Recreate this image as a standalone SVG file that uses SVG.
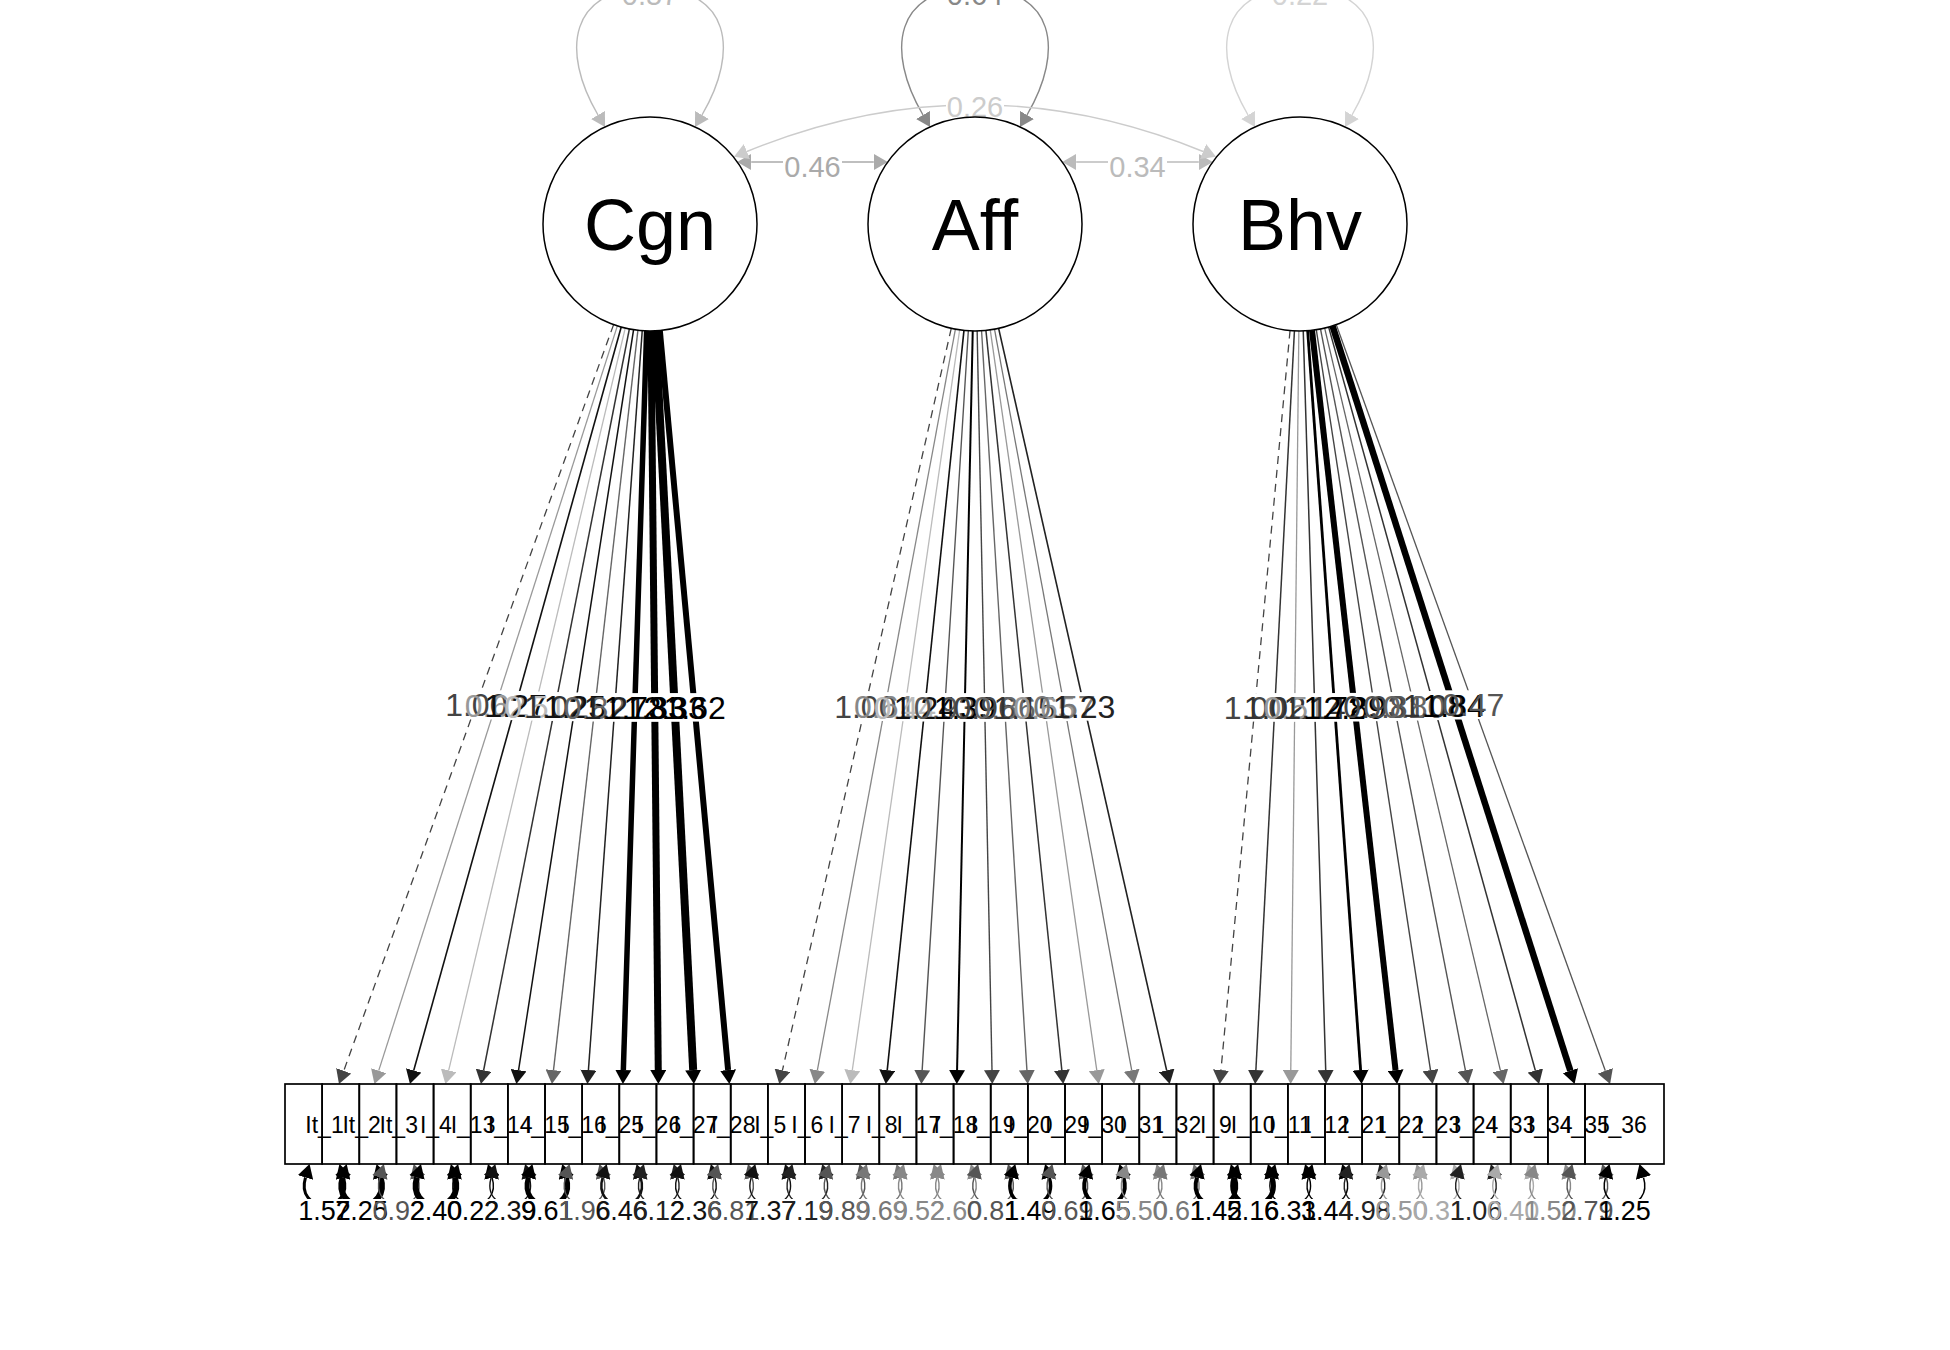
<svg xmlns="http://www.w3.org/2000/svg" width="1950" height="1350" viewBox="0 0 1950 1350">
<style>
text{font-family:"Liberation Sans",Arial,sans-serif;text-anchor:middle}
.lat{font-size:72px;fill:#000}
.bx{font-size:23px;fill:#000}
.ld{font-size:32px}
.rs{font-size:27px}
.cv{font-size:29px}
.e{fill:none}
.d{stroke-dasharray:8,6}
.bg{fill:#fff;stroke:none}
.circ{fill:#fff;stroke:#000;stroke-width:1.5}
.box{fill:none;stroke:#000;stroke-width:1.7}
</style>
<defs>
<marker id="m000" viewBox="0 0 14 16" refX="0" refY="8" markerWidth="14" markerHeight="16" markerUnits="userSpaceOnUse" orient="auto-start-reverse"><path d="M0,0L14,8L0,16Z" fill="#000"/></marker>
<marker id="m111" viewBox="0 0 14 16" refX="0" refY="8" markerWidth="14" markerHeight="16" markerUnits="userSpaceOnUse" orient="auto-start-reverse"><path d="M0,0L14,8L0,16Z" fill="#111"/></marker>
<marker id="m222" viewBox="0 0 14 16" refX="0" refY="8" markerWidth="14" markerHeight="16" markerUnits="userSpaceOnUse" orient="auto-start-reverse"><path d="M0,0L14,8L0,16Z" fill="#222"/></marker>
<marker id="m333" viewBox="0 0 14 16" refX="0" refY="8" markerWidth="14" markerHeight="16" markerUnits="userSpaceOnUse" orient="auto-start-reverse"><path d="M0,0L14,8L0,16Z" fill="#333"/></marker>
<marker id="m444" viewBox="0 0 14 16" refX="0" refY="8" markerWidth="14" markerHeight="16" markerUnits="userSpaceOnUse" orient="auto-start-reverse"><path d="M0,0L14,8L0,16Z" fill="#444"/></marker>
<marker id="m555" viewBox="0 0 14 16" refX="0" refY="8" markerWidth="14" markerHeight="16" markerUnits="userSpaceOnUse" orient="auto-start-reverse"><path d="M0,0L14,8L0,16Z" fill="#555"/></marker>
<marker id="m666" viewBox="0 0 14 16" refX="0" refY="8" markerWidth="14" markerHeight="16" markerUnits="userSpaceOnUse" orient="auto-start-reverse"><path d="M0,0L14,8L0,16Z" fill="#666"/></marker>
<marker id="m777" viewBox="0 0 14 16" refX="0" refY="8" markerWidth="14" markerHeight="16" markerUnits="userSpaceOnUse" orient="auto-start-reverse"><path d="M0,0L14,8L0,16Z" fill="#777"/></marker>
<marker id="m888" viewBox="0 0 14 16" refX="0" refY="8" markerWidth="14" markerHeight="16" markerUnits="userSpaceOnUse" orient="auto-start-reverse"><path d="M0,0L14,8L0,16Z" fill="#888"/></marker>
<marker id="m999" viewBox="0 0 14 16" refX="0" refY="8" markerWidth="14" markerHeight="16" markerUnits="userSpaceOnUse" orient="auto-start-reverse"><path d="M0,0L14,8L0,16Z" fill="#999"/></marker>
<marker id="maaa" viewBox="0 0 14 16" refX="0" refY="8" markerWidth="14" markerHeight="16" markerUnits="userSpaceOnUse" orient="auto-start-reverse"><path d="M0,0L14,8L0,16Z" fill="#aaa"/></marker>
<marker id="mbbb" viewBox="0 0 14 16" refX="0" refY="8" markerWidth="14" markerHeight="16" markerUnits="userSpaceOnUse" orient="auto-start-reverse"><path d="M0,0L14,8L0,16Z" fill="#bbb"/></marker>
<marker id="mccc" viewBox="0 0 14 16" refX="0" refY="8" markerWidth="14" markerHeight="16" markerUnits="userSpaceOnUse" orient="auto-start-reverse"><path d="M0,0L14,8L0,16Z" fill="#ccc"/></marker>
<marker id="md4" viewBox="0 0 14 16" refX="0" refY="8" markerWidth="14" markerHeight="16" markerUnits="userSpaceOnUse" orient="auto-start-reverse"><path d="M0,0L14,8L0,16Z" fill="#d4d4d4"/></marker>
</defs>
<rect width="1950" height="1350" fill="#fff"/>
<g id="connectors">
<!-- latent variances -->
<path class="e" d="M598,115C560,50 570,-12 650,-12C730,-12 740,50 702,115" stroke="#bbb" stroke-width="1.4" marker-start="url(#mbbb)" marker-end="url(#mbbb)"/>
<path class="e" d="M923,115C885,50 895,-12 975,-12C1055,-12 1065,50 1027,115" stroke="#888" stroke-width="1.4" marker-start="url(#m888)" marker-end="url(#m888)"/>
<path class="e" d="M1248,115C1210,50 1220,-12 1300,-12C1380,-12 1390,50 1352,115" stroke="#d4d4d4" stroke-width="1.4" marker-start="url(#md4)" marker-end="url(#md4)"/>
<!-- covariances -->
<path class="e" d="M751.2,162L873.8,162" stroke="#aaa" stroke-width="1.6" marker-start="url(#maaa)" marker-end="url(#maaa)"/>
<path class="e" d="M1076.2,162L1198.8,162" stroke="#bbb" stroke-width="1.6" marker-start="url(#mbbb)" marker-end="url(#mbbb)"/>
<path class="e" d="M746.9,151.5Q975,58 1203.1,151.5" stroke="#ccc" stroke-width="1.4" marker-start="url(#mccc)" marker-end="url(#mccc)"/>
<!-- loadings Cgn -->
<path class="e d" d="M613.61,324.62L343.73,1070.83" stroke="#444" stroke-width="1.3" marker-end="url(#m444)"/>
<path class="e" d="M617.35,325.9L378.72,1070.67" stroke="#999" stroke-width="1.3" marker-end="url(#m999)"/>
<path class="e" d="M621.23,327.06L413.71,1070.52" stroke="#111" stroke-width="1.6" marker-end="url(#m111)"/>
<path class="e" d="M625.24,328.1L448.68,1070.38" stroke="#bbb" stroke-width="1.3" marker-end="url(#mbbb)"/>
<path class="e" d="M629.36,328.99L483.63,1070.26" stroke="#333" stroke-width="1.5" marker-end="url(#m333)"/>
<path class="e" d="M633.58,329.73L518.57,1070.17" stroke="#111" stroke-width="1.5" marker-end="url(#m111)"/>
<path class="e" d="M637.88,330.31L553.51,1070.09" stroke="#666" stroke-width="1.4" marker-end="url(#m666)"/>
<path class="e" d="M642.23,330.72L588.43,1070.04" stroke="#222" stroke-width="1.5" marker-end="url(#m222)"/>
<path class="e" d="M646.63,330.95L623.34,1070.01" stroke="#000" stroke-width="5.5" marker-end="url(#m000)"/>
<path class="e" d="M651.05,330.99L658.26,1070" stroke="#000" stroke-width="7" marker-end="url(#m000)"/>
<path class="e" d="M655.45,330.86L693.18,1070.02" stroke="#000" stroke-width="8" marker-end="url(#m000)"/>
<path class="e" d="M659.83,330.55L728.09,1070.06" stroke="#000" stroke-width="6" marker-end="url(#m000)"/>
<!-- loadings Aff -->
<path class="e d" d="M951.26,328.33L782.42,1070.35" stroke="#444" stroke-width="1.3" marker-end="url(#m444)"/>
<path class="e" d="M955.41,329.19L817.37,1070.24" stroke="#888" stroke-width="1.3" marker-end="url(#m888)"/>
<path class="e" d="M959.65,329.89L852.31,1070.14" stroke="#bbb" stroke-width="1.3" marker-end="url(#mbbb)"/>
<path class="e" d="M963.96,330.43L887.23,1070.07" stroke="#111" stroke-width="1.6" marker-end="url(#m111)"/>
<path class="e" d="M968.33,330.79L922.16,1070.03" stroke="#555" stroke-width="1.4" marker-end="url(#m555)"/>
<path class="e" d="M972.73,330.98L957.08,1070" stroke="#000" stroke-width="2" marker-end="url(#m000)"/>
<path class="e" d="M977.15,330.98L991.99,1070" stroke="#444" stroke-width="1.4" marker-end="url(#m444)"/>
<path class="e" d="M981.55,330.8L1026.9,1070.03" stroke="#666" stroke-width="1.4" marker-end="url(#m666)"/>
<path class="e" d="M985.92,330.44L1061.83,1070.07" stroke="#333" stroke-width="1.5" marker-end="url(#m333)"/>
<path class="e" d="M990.24,329.91L1096.76,1070.14" stroke="#999" stroke-width="1.3" marker-end="url(#m999)"/>
<path class="e" d="M994.48,329.21L1131.68,1070.23" stroke="#777" stroke-width="1.3" marker-end="url(#m777)"/>
<path class="e" d="M998.63,328.36L1166.64,1070.35" stroke="#222" stroke-width="1.6" marker-end="url(#m222)"/>
<!-- loadings Bhv -->
<path class="e d" d="M1290.05,330.54L1220.97,1070.06" stroke="#444" stroke-width="1.3" marker-end="url(#m444)"/>
<path class="e" d="M1294.43,330.85L1255.89,1070.02" stroke="#333" stroke-width="1.5" marker-end="url(#m333)"/>
<path class="e" d="M1298.84,330.99L1290.79,1070" stroke="#999" stroke-width="1.3" marker-end="url(#m999)"/>
<path class="e" d="M1303.25,330.95L1325.71,1070.01" stroke="#333" stroke-width="1.5" marker-end="url(#m333)"/>
<path class="e" d="M1307.65,330.73L1360.63,1070.04" stroke="#000" stroke-width="2.8" marker-end="url(#m000)"/>
<path class="e" d="M1312.01,330.32L1395.55,1070.09" stroke="#000" stroke-width="6" marker-end="url(#m000)"/>
<path class="e" d="M1316.31,329.75L1430.49,1070.16" stroke="#444" stroke-width="1.4" marker-end="url(#m444)"/>
<path class="e" d="M1320.53,329.01L1465.42,1070.26" stroke="#555" stroke-width="1.4" marker-end="url(#m555)"/>
<path class="e" d="M1324.65,328.12L1500.37,1070.38" stroke="#666" stroke-width="1.3" marker-end="url(#m666)"/>
<path class="e" d="M1328.66,327.09L1535.34,1070.51" stroke="#333" stroke-width="1.5" marker-end="url(#m333)"/>
<path class="e" d="M1332.55,325.93L1570.33,1070.66" stroke="#000" stroke-width="6.5" marker-end="url(#m000)"/>
<path class="e" d="M1336.29,324.66L1605.33,1070.83" stroke="#555" stroke-width="1.3" marker-end="url(#m555)"/>
<!-- residual variances -->
<g class="e">
<path transform="translate(324.5,0)" d="M-19,1177.5C-24,1194 -14,1205 0,1205C14,1205 24,1194 19,1177.5" stroke="#000" stroke-width="3" marker-start="url(#m000)" marker-end="url(#m000)"/>
<path transform="translate(361.64,0)" d="M-19,1177.5C-24,1194 -14,1205 0,1205C14,1205 24,1194 19,1177.5" stroke="#000" stroke-width="6" marker-start="url(#m000)" marker-end="url(#m000)"/>
<path transform="translate(398.79,0)" d="M-19,1177.5C-24,1194 -14,1205 0,1205C14,1205 24,1194 19,1177.5" stroke="#555" stroke-width="1.4" marker-start="url(#m555)" marker-end="url(#m555)"/>
<path transform="translate(435.93,0)" d="M-19,1177.5C-24,1194 -14,1205 0,1205C14,1205 24,1194 19,1177.5" stroke="#000" stroke-width="6" marker-start="url(#m000)" marker-end="url(#m000)"/>
<path transform="translate(473.07,0)" d="M-19,1177.5C-24,1194 -14,1205 0,1205C14,1205 24,1194 19,1177.5" stroke="#000" stroke-width="1.4" marker-start="url(#m000)" marker-end="url(#m000)"/>
<path transform="translate(510.21,0)" d="M-19,1177.5C-24,1194 -14,1205 0,1205C14,1205 24,1194 19,1177.5" stroke="#111" stroke-width="1.4" marker-start="url(#m111)" marker-end="url(#m111)"/>
<path transform="translate(547.36,0)" d="M-19,1177.5C-24,1194 -14,1205 0,1205C14,1205 24,1194 19,1177.5" stroke="#000" stroke-width="5" marker-start="url(#m000)" marker-end="url(#m000)"/>
<path transform="translate(584.5,0)" d="M-19,1177.5C-24,1194 -14,1205 0,1205C14,1205 24,1194 19,1177.5" stroke="#555" stroke-width="1.4" marker-start="url(#m555)" marker-end="url(#m555)"/>
<path transform="translate(621.64,0)" d="M-19,1177.5C-24,1194 -14,1205 0,1205C14,1205 24,1194 19,1177.5" stroke="#111" stroke-width="2.5" marker-start="url(#m111)" marker-end="url(#m111)"/>
<path transform="translate(658.79,0)" d="M-19,1177.5C-24,1194 -14,1205 0,1205C14,1205 24,1194 19,1177.5" stroke="#222" stroke-width="1.4" marker-start="url(#m222)" marker-end="url(#m222)"/>
<path transform="translate(695.93,0)" d="M-19,1177.5C-24,1194 -14,1205 0,1205C14,1205 24,1194 19,1177.5" stroke="#111" stroke-width="1.4" marker-start="url(#m111)" marker-end="url(#m111)"/>
<path transform="translate(733.07,0)" d="M-19,1177.5C-24,1194 -14,1205 0,1205C14,1205 24,1194 19,1177.5" stroke="#555" stroke-width="1.4" marker-start="url(#m555)" marker-end="url(#m555)"/>
<path transform="translate(770.21,0)" d="M-19,1177.5C-24,1194 -14,1205 0,1205C14,1205 24,1194 19,1177.5" stroke="#111" stroke-width="1.4" marker-start="url(#m111)" marker-end="url(#m111)"/>
<path transform="translate(807.36,0)" d="M-19,1177.5C-24,1194 -14,1205 0,1205C14,1205 24,1194 19,1177.5" stroke="#222" stroke-width="1.4" marker-start="url(#m222)" marker-end="url(#m222)"/>
<path transform="translate(844.5,0)" d="M-19,1177.5C-24,1194 -14,1205 0,1205C14,1205 24,1194 19,1177.5" stroke="#555" stroke-width="1.4" marker-start="url(#m555)" marker-end="url(#m555)"/>
<path transform="translate(881.64,0)" d="M-19,1177.5C-24,1194 -14,1205 0,1205C14,1205 24,1194 19,1177.5" stroke="#777" stroke-width="1.4" marker-start="url(#m777)" marker-end="url(#m777)"/>
<path transform="translate(918.79,0)" d="M-19,1177.5C-24,1194 -14,1205 0,1205C14,1205 24,1194 19,1177.5" stroke="#888" stroke-width="1.4" marker-start="url(#m888)" marker-end="url(#m888)"/>
<path transform="translate(955.93,0)" d="M-19,1177.5C-24,1194 -14,1205 0,1205C14,1205 24,1194 19,1177.5" stroke="#888" stroke-width="1.4" marker-start="url(#m888)" marker-end="url(#m888)"/>
<path transform="translate(993.07,0)" d="M-19,1177.5C-24,1194 -14,1205 0,1205C14,1205 24,1194 19,1177.5" stroke="#555" stroke-width="1.4" marker-start="url(#m555)" marker-end="url(#m555)"/>
<path transform="translate(1030.21,0)" d="M-19,1177.5C-24,1194 -14,1205 0,1205C14,1205 24,1194 19,1177.5" stroke="#000" stroke-width="3.5" marker-start="url(#m000)" marker-end="url(#m000)"/>
<path transform="translate(1067.36,0)" d="M-19,1177.5C-24,1194 -14,1205 0,1205C14,1205 24,1194 19,1177.5" stroke="#555" stroke-width="1.4" marker-start="url(#m555)" marker-end="url(#m555)"/>
<path transform="translate(1104.5,0)" d="M-19,1177.5C-24,1194 -14,1205 0,1205C14,1205 24,1194 19,1177.5" stroke="#000" stroke-width="4" marker-start="url(#m000)" marker-end="url(#m000)"/>
<path transform="translate(1141.64,0)" d="M-19,1177.5C-24,1194 -14,1205 0,1205C14,1205 24,1194 19,1177.5" stroke="#888" stroke-width="1.4" marker-start="url(#m888)" marker-end="url(#m888)"/>
<path transform="translate(1178.79,0)" d="M-19,1177.5C-24,1194 -14,1205 0,1205C14,1205 24,1194 19,1177.5" stroke="#777" stroke-width="1.4" marker-start="url(#m777)" marker-end="url(#m777)"/>
<path transform="translate(1215.93,0)" d="M-19,1177.5C-24,1194 -14,1205 0,1205C14,1205 24,1194 19,1177.5" stroke="#000" stroke-width="4" marker-start="url(#m000)" marker-end="url(#m000)"/>
<path transform="translate(1253.07,0)" d="M-19,1177.5C-24,1194 -14,1205 0,1205C14,1205 24,1194 19,1177.5" stroke="#000" stroke-width="5" marker-start="url(#m000)" marker-end="url(#m000)"/>
<path transform="translate(1290.21,0)" d="M-19,1177.5C-24,1194 -14,1205 0,1205C14,1205 24,1194 19,1177.5" stroke="#000" stroke-width="1.4" marker-start="url(#m000)" marker-end="url(#m000)"/>
<path transform="translate(1327.36,0)" d="M-19,1177.5C-24,1194 -14,1205 0,1205C14,1205 24,1194 19,1177.5" stroke="#000" stroke-width="1.4" marker-start="url(#m000)" marker-end="url(#m000)"/>
<path transform="translate(1364.5,0)" d="M-19,1177.5C-24,1194 -14,1205 0,1205C14,1205 24,1194 19,1177.5" stroke="#222" stroke-width="1.4" marker-start="url(#m222)" marker-end="url(#m222)"/>
<path transform="translate(1401.64,0)" d="M-19,1177.5C-24,1194 -14,1205 0,1205C14,1205 24,1194 19,1177.5" stroke="#999" stroke-width="1.4" marker-start="url(#m999)" marker-end="url(#m999)"/>
<path transform="translate(1438.79,0)" d="M-19,1177.5C-24,1194 -14,1205 0,1205C14,1205 24,1194 19,1177.5" stroke="#aaa" stroke-width="1.4" marker-start="url(#maaa)" marker-end="url(#maaa)"/>
<path transform="translate(1475.93,0)" d="M-19,1177.5C-24,1194 -14,1205 0,1205C14,1205 24,1194 19,1177.5" stroke="#222" stroke-width="1.4" marker-start="url(#m222)" marker-end="url(#m222)"/>
<path transform="translate(1513.07,0)" d="M-19,1177.5C-24,1194 -14,1205 0,1205C14,1205 24,1194 19,1177.5" stroke="#aaa" stroke-width="1.4" marker-start="url(#maaa)" marker-end="url(#maaa)"/>
<path transform="translate(1550.21,0)" d="M-19,1177.5C-24,1194 -14,1205 0,1205C14,1205 24,1194 19,1177.5" stroke="#888" stroke-width="1.4" marker-start="url(#m888)" marker-end="url(#m888)"/>
<path transform="translate(1587.36,0)" d="M-19,1177.5C-24,1194 -14,1205 0,1205C14,1205 24,1194 19,1177.5" stroke="#555" stroke-width="1.4" marker-start="url(#m555)" marker-end="url(#m555)"/>
<path transform="translate(1624.5,0)" d="M-19,1177.5C-24,1194 -14,1205 0,1205C14,1205 24,1194 19,1177.5" stroke="#000" stroke-width="1.5" marker-start="url(#m000)" marker-end="url(#m000)"/>
</g>
</g>
<g id="edge-labels">
<g class="bg">
<rect x="620" y="-24" width="60" height="33"/><rect x="945" y="-24" width="60" height="33"/><rect x="1270" y="-24" width="60" height="33"/>
<rect x="783" y="154" width="59" height="27"/><rect x="1108" y="154" width="59" height="27"/><rect x="946" y="95" width="58" height="26"/>
<rect x="445.3" y="690.3" width="62" height="28"/><rect x="464.9" y="691" width="62" height="28"/><rect x="484.6" y="691.5" width="62" height="28"/><rect x="504.3" y="692.1" width="62" height="28"/><rect x="524.2" y="692.5" width="62" height="28"/><rect x="544" y="692.9" width="62" height="28"/><rect x="563.9" y="693.2" width="62" height="28"/><rect x="583.8" y="693.4" width="62" height="28"/><rect x="603.8" y="693.5" width="62" height="28"/><rect x="623.7" y="693.5" width="62" height="28"/><rect x="643.7" y="693.4" width="62" height="28"/><rect x="663.6" y="693.3" width="62" height="28"/>
<rect x="834.3" y="692.2" width="62" height="28"/><rect x="854.1" y="692.6" width="62" height="28"/><rect x="874" y="693" width="62" height="28"/><rect x="893.9" y="693.2" width="62" height="28"/><rect x="913.8" y="693.4" width="62" height="28"/><rect x="933.8" y="693.5" width="62" height="28"/><rect x="953.7" y="693.5" width="62" height="28"/><rect x="973.7" y="693.4" width="62" height="28"/><rect x="993.6" y="693.2" width="62" height="28"/><rect x="1013.5" y="693" width="62" height="28"/><rect x="1033.4" y="692.6" width="62" height="28"/><rect x="1053.2" y="692.2" width="62" height="28"/>
<rect x="1223.9" y="693.3" width="62" height="28"/><rect x="1243.8" y="693.4" width="62" height="28"/><rect x="1263.7" y="693.5" width="62" height="28"/><rect x="1283.7" y="693.5" width="62" height="28"/><rect x="1303.6" y="693.4" width="62" height="28"/><rect x="1323.6" y="693.2" width="62" height="28"/><rect x="1343.5" y="692.9" width="62" height="28"/><rect x="1363.3" y="692.5" width="62" height="28"/><rect x="1383.1" y="692.1" width="62" height="28"/><rect x="1402.9" y="691.5" width="62" height="28"/><rect x="1422.6" y="691" width="62" height="28"/><rect x="1442.2" y="690.3" width="62" height="28"/>
<rect x="297.5" y="1199" width="54" height="26"/><rect x="334.6" y="1199" width="54" height="26"/><rect x="371.8" y="1199" width="54" height="26"/><rect x="408.9" y="1199" width="54" height="26"/><rect x="446.1" y="1199" width="54" height="26"/><rect x="483.2" y="1199" width="54" height="26"/><rect x="520.4" y="1199" width="54" height="26"/><rect x="557.5" y="1199" width="54" height="26"/><rect x="594.6" y="1199" width="54" height="26"/><rect x="631.8" y="1199" width="54" height="26"/><rect x="668.9" y="1199" width="54" height="26"/><rect x="706.1" y="1199" width="54" height="26"/><rect x="743.2" y="1199" width="54" height="26"/><rect x="780.4" y="1199" width="54" height="26"/><rect x="817.5" y="1199" width="54" height="26"/><rect x="854.6" y="1199" width="54" height="26"/><rect x="891.8" y="1199" width="54" height="26"/><rect x="928.9" y="1199" width="54" height="26"/><rect x="966.1" y="1199" width="54" height="26"/><rect x="1003.2" y="1199" width="54" height="26"/><rect x="1040.4" y="1199" width="54" height="26"/><rect x="1077.5" y="1199" width="54" height="26"/><rect x="1114.6" y="1199" width="54" height="26"/><rect x="1151.8" y="1199" width="54" height="26"/><rect x="1188.9" y="1199" width="54" height="26"/><rect x="1226.1" y="1199" width="54" height="26"/><rect x="1263.2" y="1199" width="54" height="26"/><rect x="1300.4" y="1199" width="54" height="26"/><rect x="1337.5" y="1199" width="54" height="26"/><rect x="1374.6" y="1199" width="54" height="26"/><rect x="1411.8" y="1199" width="54" height="26"/><rect x="1448.9" y="1199" width="54" height="26"/><rect x="1486.1" y="1199" width="54" height="26"/><rect x="1523.2" y="1199" width="54" height="26"/><rect x="1560.4" y="1199" width="54" height="26"/><rect x="1597.5" y="1199" width="54" height="26"/>
</g>
<text class="cv" x="650" y="5" fill="#bbb">0.57</text>
<text class="cv" x="975" y="5" fill="#888">0.64</text>
<text class="cv" x="1300" y="5" fill="#d4d4d4">0.22</text>
<text class="cv" x="812.5" y="177" fill="#aaa">0.46</text>
<text class="cv" x="1137.5" y="177" fill="#bbb">0.34</text>
<text class="cv" x="975" y="117" fill="#ccc">0.26</text>
<text class="ld" x="476.3" y="715.8" fill="#444">1.00</text>
<text class="ld" x="495.9" y="716.5" fill="#999">0.62</text>
<text class="ld" x="515.6" y="717" fill="#111">1.27</text>
<text class="ld" x="535.3" y="717.6" fill="#bbb">0.51</text>
<text class="ld" x="555.2" y="718" fill="#333">1.02</text>
<text class="ld" x="575" y="718.4" fill="#111">1.25</text>
<text class="ld" x="594.9" y="718.7" fill="#666">0.82</text>
<text class="ld" x="614.8" y="718.9" fill="#222">1.21</text>
<text class="ld" x="634.8" y="719" fill="#000">1.73</text>
<text class="ld" x="654.7" y="719" fill="#000">1.83</text>
<text class="ld" x="674.7" y="718.9" fill="#000">2.33</text>
<text class="ld" x="694.6" y="718.8" fill="#000">1.62</text>
<text class="ld" x="865.3" y="717.7" fill="#444">1.00</text>
<text class="ld" x="885.1" y="718.1" fill="#888">0.61</text>
<text class="ld" x="905" y="718.5" fill="#bbb">0.44</text>
<text class="ld" x="924.9" y="718.7" fill="#111">1.24</text>
<text class="ld" x="944.8" y="718.9" fill="#555">0.93</text>
<text class="ld" x="964.8" y="719" fill="#000">1.39</text>
<text class="ld" x="984.7" y="719" fill="#444">0.96</text>
<text class="ld" x="1004.7" y="718.9" fill="#666">0.86</text>
<text class="ld" x="1024.6" y="718.7" fill="#333">1.15</text>
<text class="ld" x="1044.5" y="718.5" fill="#999">0.65</text>
<text class="ld" x="1064.4" y="718.1" fill="#777">0.57</text>
<text class="ld" x="1084.2" y="717.7" fill="#222">1.23</text>
<text class="ld" x="1254.9" y="718.8" fill="#444">1.00</text>
<text class="ld" x="1274.8" y="718.9" fill="#333">1.02</text>
<text class="ld" x="1294.7" y="719" fill="#999">0.51</text>
<text class="ld" x="1314.7" y="719" fill="#333">1.14</text>
<text class="ld" x="1334.6" y="718.9" fill="#000">1.72</text>
<text class="ld" x="1354.6" y="718.7" fill="#000">2.89</text>
<text class="ld" x="1374.5" y="718.4" fill="#444">0.93</text>
<text class="ld" x="1394.3" y="718" fill="#555">0.81</text>
<text class="ld" x="1414.1" y="717.6" fill="#666">0.80</text>
<text class="ld" x="1433.9" y="717" fill="#333">1.08</text>
<text class="ld" x="1453.6" y="716.5" fill="#000">1.84</text>
<text class="ld" x="1473.2" y="715.8" fill="#555">0.47</text>
<text class="rs" x="324.5" y="1220" fill="#000">1.52</text>
<text class="rs" x="361.64" y="1220" fill="#000">7.25</text>
<text class="rs" x="398.79" y="1220" fill="#555">0.92</text>
<text class="rs" x="435.93" y="1220" fill="#000">2.40</text>
<text class="rs" x="473.07" y="1220" fill="#000">0.22</text>
<text class="rs" x="510.21" y="1220" fill="#111">2.39</text>
<text class="rs" x="547.36" y="1220" fill="#000">9.61</text>
<text class="rs" x="584.5" y="1220" fill="#555">1.96</text>
<text class="rs" x="621.64" y="1220" fill="#111">6.46</text>
<text class="rs" x="658.79" y="1220" fill="#222">6.12</text>
<text class="rs" x="695.93" y="1220" fill="#111">2.36</text>
<text class="rs" x="733.07" y="1220" fill="#555">6.81</text>
<text class="rs" x="770.21" y="1220" fill="#111">7.37</text>
<text class="rs" x="807.36" y="1220" fill="#222">7.19</text>
<text class="rs" x="844.5" y="1220" fill="#555">9.89</text>
<text class="rs" x="881.64" y="1220" fill="#777">9.69</text>
<text class="rs" x="918.79" y="1220" fill="#888">9.52</text>
<text class="rs" x="955.93" y="1220" fill="#888">2.60</text>
<text class="rs" x="993.07" y="1220" fill="#555">0.81</text>
<text class="rs" x="1030.21" y="1220" fill="#000">1.49</text>
<text class="rs" x="1067.36" y="1220" fill="#555">0.69</text>
<text class="rs" x="1104.5" y="1220" fill="#000">1.65</text>
<text class="rs" x="1141.64" y="1220" fill="#888">5.50</text>
<text class="rs" x="1178.79" y="1220" fill="#777">0.61</text>
<text class="rs" x="1215.93" y="1220" fill="#000">1.42</text>
<text class="rs" x="1253.07" y="1220" fill="#000">5.16</text>
<text class="rs" x="1290.21" y="1220" fill="#000">6.31</text>
<text class="rs" x="1327.36" y="1220" fill="#000">3.44</text>
<text class="rs" x="1364.5" y="1220" fill="#222">4.98</text>
<text class="rs" x="1401.64" y="1220" fill="#999">0.50</text>
<text class="rs" x="1438.79" y="1220" fill="#aaa">0.31</text>
<text class="rs" x="1475.93" y="1220" fill="#222">1.06</text>
<text class="rs" x="1513.07" y="1220" fill="#aaa">0.40</text>
<text class="rs" x="1550.21" y="1220" fill="#888">1.50</text>
<text class="rs" x="1587.36" y="1220" fill="#555">2.79</text>
<text class="rs" x="1624.5" y="1220" fill="#000">1.25</text>
</g>
<g id="nodes">
<g id="Cgn"><circle class="circ" cx="650" cy="224" r="107"/><text class="lat" x="650" y="250">Cgn</text></g>
<g id="Aff"><circle class="circ" cx="975" cy="224" r="107"/><text class="lat" x="975" y="250">Aff</text></g>
<g id="Bhv"><circle class="circ" cx="1300" cy="224" r="107"/><text class="lat" x="1300" y="250">Bhv</text></g>
<g id="It_1"><rect class="box" x="285" y="1084" width="37.14" height="80"/><text class="bx" x="324.5" y="1133">It_1</text></g>
<g id="It_2"><rect class="box" x="322.14" y="1084" width="37.14" height="80"/><text class="bx" x="361.64" y="1133">It_2</text></g>
<g id="It_3"><rect class="box" x="359.29" y="1084" width="37.14" height="80"/><text class="bx" x="398.79" y="1133">It_3</text></g>
<g id="I_4"><rect class="box" x="396.43" y="1084" width="37.14" height="80"/><text class="bx" x="435.93" y="1133">I_4</text></g>
<g id="I_13"><rect class="box" x="433.57" y="1084" width="37.14" height="80"/><text class="bx" x="473.07" y="1133">I_13</text></g>
<g id="I_14"><rect class="box" x="470.71" y="1084" width="37.14" height="80"/><text class="bx" x="510.21" y="1133">I_14</text></g>
<g id="I_15"><rect class="box" x="507.86" y="1084" width="37.14" height="80"/><text class="bx" x="547.36" y="1133">I_15</text></g>
<g id="I_16"><rect class="box" x="545" y="1084" width="37.14" height="80"/><text class="bx" x="584.5" y="1133">I_16</text></g>
<g id="I_25"><rect class="box" x="582.14" y="1084" width="37.14" height="80"/><text class="bx" x="621.64" y="1133">I_25</text></g>
<g id="I_26"><rect class="box" x="619.29" y="1084" width="37.14" height="80"/><text class="bx" x="658.79" y="1133">I_26</text></g>
<g id="I_27"><rect class="box" x="656.43" y="1084" width="37.14" height="80"/><text class="bx" x="695.93" y="1133">I_27</text></g>
<g id="I_28"><rect class="box" x="693.57" y="1084" width="37.14" height="80"/><text class="bx" x="733.07" y="1133">I_28</text></g>
<g id="I_5"><rect class="box" x="730.71" y="1084" width="37.14" height="80"/><text class="bx" x="770.21" y="1133">I_5</text></g>
<g id="I_6"><rect class="box" x="767.86" y="1084" width="37.14" height="80"/><text class="bx" x="807.36" y="1133">I_6</text></g>
<g id="I_7"><rect class="box" x="805" y="1084" width="37.14" height="80"/><text class="bx" x="844.5" y="1133">I_7</text></g>
<g id="I_8"><rect class="box" x="842.14" y="1084" width="37.14" height="80"/><text class="bx" x="881.64" y="1133">I_8</text></g>
<g id="I_17"><rect class="box" x="879.29" y="1084" width="37.14" height="80"/><text class="bx" x="918.79" y="1133">I_17</text></g>
<g id="I_18"><rect class="box" x="916.43" y="1084" width="37.14" height="80"/><text class="bx" x="955.93" y="1133">I_18</text></g>
<g id="I_19"><rect class="box" x="953.57" y="1084" width="37.14" height="80"/><text class="bx" x="993.07" y="1133">I_19</text></g>
<g id="I_20"><rect class="box" x="990.71" y="1084" width="37.14" height="80"/><text class="bx" x="1030.21" y="1133">I_20</text></g>
<g id="I_29"><rect class="box" x="1027.86" y="1084" width="37.14" height="80"/><text class="bx" x="1067.36" y="1133">I_29</text></g>
<g id="I_30"><rect class="box" x="1065" y="1084" width="37.14" height="80"/><text class="bx" x="1104.5" y="1133">I_30</text></g>
<g id="I_31"><rect class="box" x="1102.14" y="1084" width="37.14" height="80"/><text class="bx" x="1141.64" y="1133">I_31</text></g>
<g id="I_32"><rect class="box" x="1139.29" y="1084" width="37.14" height="80"/><text class="bx" x="1178.79" y="1133">I_32</text></g>
<g id="I_9"><rect class="box" x="1176.43" y="1084" width="37.14" height="80"/><text class="bx" x="1215.93" y="1133">I_9</text></g>
<g id="I_10"><rect class="box" x="1213.57" y="1084" width="37.14" height="80"/><text class="bx" x="1253.07" y="1133">I_10</text></g>
<g id="I_11"><rect class="box" x="1250.71" y="1084" width="37.14" height="80"/><text class="bx" x="1290.21" y="1133">I_11</text></g>
<g id="I_12"><rect class="box" x="1287.86" y="1084" width="37.14" height="80"/><text class="bx" x="1327.36" y="1133">I_12</text></g>
<g id="I_21"><rect class="box" x="1325" y="1084" width="37.14" height="80"/><text class="bx" x="1364.5" y="1133">I_21</text></g>
<g id="I_22"><rect class="box" x="1362.14" y="1084" width="37.14" height="80"/><text class="bx" x="1401.64" y="1133">I_22</text></g>
<g id="I_23"><rect class="box" x="1399.29" y="1084" width="37.14" height="80"/><text class="bx" x="1438.79" y="1133">I_23</text></g>
<g id="I_24"><rect class="box" x="1436.43" y="1084" width="37.14" height="80"/><text class="bx" x="1475.93" y="1133">I_24</text></g>
<g id="I_33"><rect class="box" x="1473.57" y="1084" width="37.14" height="80"/><text class="bx" x="1513.07" y="1133">I_33</text></g>
<g id="I_34"><rect class="box" x="1510.71" y="1084" width="37.14" height="80"/><text class="bx" x="1550.21" y="1133">I_34</text></g>
<g id="I_35"><rect class="box" x="1547.86" y="1084" width="37.14" height="80"/><text class="bx" x="1587.36" y="1133">I_35</text></g>
<g id="I_36"><rect class="box" x="1585" y="1084" width="79" height="80"/><text class="bx" x="1624.5" y="1133">I_36</text></g>
</g>
</svg>
